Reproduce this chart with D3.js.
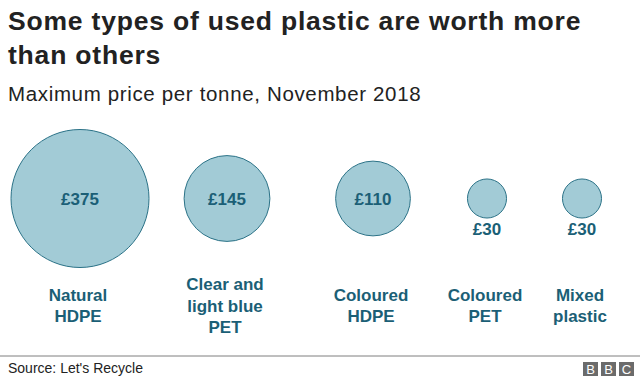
<!DOCTYPE html>
<html>
<head>
<meta charset="utf-8">
<script src="https://cdn.jsdelivr.net/npm/d3@7"></script>
<style>
  html, body { margin: 0; padding: 0; background: #fff; }
  svg { display: block; font-family: "Liberation Sans", Arial, Helvetica, sans-serif; }
</style>
</head>
<body>
<svg id="chart" width="640" height="379"></svg>
<script>
// ---- data ----
const categories = ["Natural HDPE", "Clear and light blue PET", "Coloured HDPE", "Coloured PET", "Mixed plastic"];
const labelLines = [["Natural", "HDPE"], ["Clear and", "light blue", "PET"], ["Coloured", "HDPE"], ["Coloured", "PET"], ["Mixed", "plastic"]];
const prices = [375, 145, 110, 30, 30];
const priceLabels = ["£375", "£145", "£110", "£30", "£30"];

const title = ["Some types of used plastic are worth more", "than others"];
const subtitle = "Maximum price per tonne, November 2018";
const source = "Source: Let's Recycle";

// ---- layout ----
const W = 640, H = 379;
const svg = d3.select("#chart");
const fill = "#a2cbd6", stroke = "#2b7287", textCol = "#1b5f76";

const x = d3.scaleOrdinal().domain(categories).range([80, 227, 373, 487, 582]);
const r = d3.scaleSqrt().domain([0, d3.max(prices)]).range([0, 69]);
const cy = 198.5;

const data = categories.map((c, i) => ({ cat: c, lines: labelLines[i], v: prices[i], lab: priceLabels[i] }));

// title
svg.append("g").selectAll("text").data(title).join("text")
  .attr("x", 8).attr("y", (d, i) => 30 + i * 34)
  .attr("font-size", 26.5).attr("letter-spacing", 0.8).attr("font-weight", "bold").attr("fill", "#222")
  .text(d => d);

svg.append("text").attr("x", 8).attr("y", 100.5)
  .attr("font-size", 20.5).attr("letter-spacing", 0.65).attr("fill", "#222").text(subtitle);

const g = svg.append("g");
const items = g.selectAll("g.item").data(data).join("g").attr("class", "item");

items.append("circle")
  .attr("cx", d => x(d.cat)).attr("cy", cy).attr("r", d => r(d.v))
  .attr("fill", fill).attr("stroke", stroke).attr("stroke-width", 1);

items.append("text")
  .attr("x", d => x(d.cat))
  .attr("y", d => r(d.v) > 25 ? cy + 6 : cy + r(d.v) + 17)
  .attr("text-anchor", "middle").attr("font-size", 17).attr("font-weight", "bold")
  .attr("fill", textCol).text(d => d.lab);

items.append("text")
  .attr("text-anchor", "middle").attr("font-size", 17).attr("font-weight", "bold")
  .attr("fill", textCol)
  .each(function(d) {
    const t = d3.select(this);
    const lh = 21.5;
    const y0 = 311.5 - (d.lines.length - 1) / 2 * lh;
    d.lines.forEach((ln, j) => {
      t.append("tspan").attr("x", x(d.cat) - 2).attr("y", y0 + j * lh).text(ln);
    });
  });

// footer
svg.append("line").attr("x1", 0).attr("x2", W).attr("y1", 356).attr("y2", 356)
  .attr("stroke", "#7f7f7f").attr("stroke-width", 1);
svg.append("text").attr("x", 8).attr("y", 373).attr("font-size", 14).attr("fill", "#222").text(source);

const logo = svg.append("g");
["B", "B", "C"].forEach((ch, i) => {
  const bx = 583 + i * 18;
  logo.append("rect").attr("x", bx).attr("y", 362).attr("width", 15).attr("height", 14).attr("fill", "#6b6b6b");
  logo.append("text").attr("x", bx + 7.5).attr("y", 374).attr("text-anchor", "middle")
    .attr("font-size", 13).attr("fill", "#fff").text(ch);
});
</script>
</body>
</html>
